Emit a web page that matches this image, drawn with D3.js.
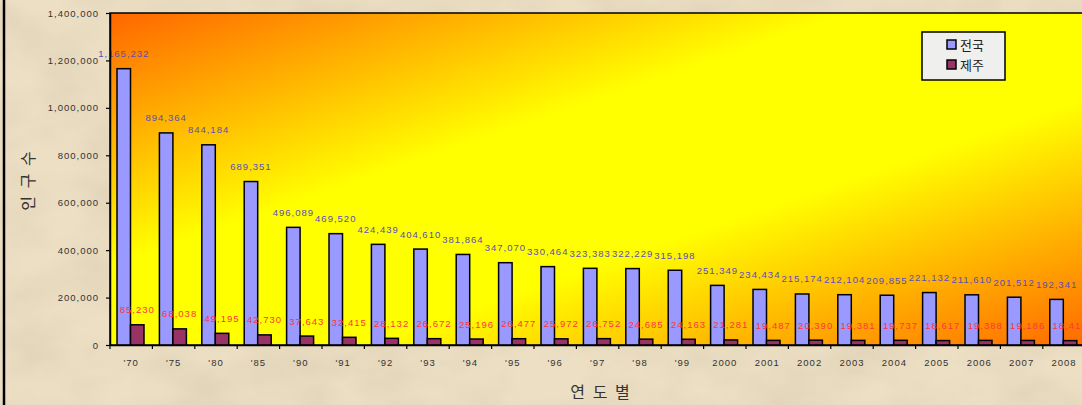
<!DOCTYPE html>
<html>
<head>
<meta charset="utf-8">
<script src="https://cdn.jsdelivr.net/npm/d3@7"></script>
<style>
  html, body { margin: 0; padding: 0; background: #ebdfc5; overflow: hidden; }
  svg { display: block; }
</style>
</head>
<body>
<svg id="chart" width="1082" height="405"></svg>
<script>
// kategori tahun dan nilai
const years = ["'70", "'75", "'80", "'85", "'90", "'91", "'92", "'93", "'94", "'95", "'96", "'97", "'98", "'99",
               "2000", "2001", "2002", "2003", "2004", "2005", "2006", "2007", "2008"];
const nationVals = [1165232, 894364, 844184, 689351, 496089, 469520, 424439, 404610, 381864, 347070, 330464,
                    323383, 322229, 315198, 251349, 234434, 215174, 212104, 209855, 221132, 211610, 201512, 192341];
const jejuVals = [85230, 68038, 49195, 42730, 37643, 32415, 28132, 26672, 25196, 26477, 25972,
                  26752, 24685, 24163, 21281, 19487, 20390, 19381, 19737, 18617, 19388, 19186, 18418];
const seriesNames = ["전국", "제주"];
const yTicks = [0, 200000, 400000, 600000, 800000, 1000000, 1200000, 1400000];

const W = 1082, H = 405;
const plot = { left: 110, top: 13, bottom: 345, band: 42.4 };
plot.right = plot.left + plot.band * years.length;

const svg = d3.select("#chart");
const defs = svg.append("defs");

// tekstur kertas
const paper = defs.append("filter").attr("id", "paper").attr("x", 0).attr("y", 0).attr("width", "100%").attr("height", "100%");
paper.append("feTurbulence").attr("type", "fractalNoise").attr("baseFrequency", "0.012 0.02").attr("numOctaves", 4).attr("seed", 7);
paper.append("feColorMatrix").attr("type", "matrix")
  .attr("values", "0 0 0 0 0.55  0 0 0 0 0.45  0 0 0 0 0.3  0 0 0 -1.1 0.75");
paper.append("feComposite").attr("in2", "SourceGraphic").attr("operator", "in");

// gradien area plot
const grad = defs.append("linearGradient").attr("id", "plotGrad")
  .attr("x1", "0").attr("y1", "0").attr("x2", "1").attr("y2", "1");
[[0, "#ff6600"], [0.38, "#ffff00"], [0.63, "#ffff00"], [1, "#ff6a00"]].forEach(s =>
  grad.append("stop").attr("offset", s[0]).attr("stop-color", s[1]));

// latar belakang
svg.append("rect").attr("width", W).attr("height", H).attr("fill", "#ecdfc4");
svg.append("rect").attr("width", W).attr("height", H).attr("fill", "#ecdfc4")
  .attr("filter", "url(#paper)").attr("opacity", 0.4);
svg.append("line").attr("x1", 4).attr("x2", 4).attr("y1", 0).attr("y2", H)
  .attr("stroke", "#000").attr("stroke-width", 2.5);

// skala
const x = d3.scaleBand().domain(years).range([plot.left, plot.right]).padding(0);
const xSub = d3.scaleBand().domain(seriesNames).range([7, 34]).padding(0);
const y = d3.scaleLinear().domain([0, 1400000]).range([plot.bottom, plot.top]);
const colors = { "전국": "#9999ff", "제주": "#993366" };

// area plot
svg.append("rect")
  .attr("x", plot.left).attr("y", plot.top)
  .attr("width", plot.right - plot.left).attr("height", plot.bottom - plot.top)
  .attr("fill", "url(#plotGrad)")
  .attr("stroke", "#000").attr("stroke-width", 1.5);

const rows = years.map((yr, i) => ({ yr, "전국": nationVals[i], "제주": jejuVals[i] }));

// batang
const groups = svg.append("g").selectAll("g").data(rows).join("g")
  .attr("transform", d => `translate(${x(d.yr)},0)`);

groups.selectAll("rect").data(d => seriesNames.map(k => ({ k, v: d[k] }))).join("rect")
  .attr("x", d => xSub(d.k))
  .attr("y", d => y(d.v))
  .attr("width", xSub.bandwidth())
  .attr("height", d => plot.bottom - y(d.v))
  .attr("fill", d => colors[d.k])
  .attr("stroke", "#000").attr("stroke-width", 1.5);

// label nilai
const fmt = d3.format(",");
groups.selectAll("text").data(d => seriesNames.map(k => ({ k, v: d[k] }))).join("text")
  .attr("x", d => xSub(d.k) + xSub.bandwidth() / 2)
  .attr("y", d => y(d.v) - 11.5)
  .attr("text-anchor", "middle")
  .style("font-family", "'Liberation Sans', Arial, sans-serif")
  .style("font-size", "9.5px")
  .style("letter-spacing", "1px")
  .attr("fill", d => d.k === "전국" ? "#5a4db8" : "#ff3535")
  .text(d => fmt(d.v));

// sumbu Y
const yAxis = svg.append("g")
  .attr("transform", `translate(${plot.left},0)`)
  .call(d3.axisLeft(y).tickValues(yTicks).tickFormat(fmt).tickSize(4).tickSizeOuter(0).tickPadding(7));
yAxis.select(".domain").attr("stroke", "#000").attr("stroke-width", 1.5);
yAxis.selectAll(".tick line").attr("stroke", "#000").attr("stroke-width", 1.2);
yAxis.selectAll("text")
  .style("font-family", "'Liberation Sans', Arial, sans-serif")
  .style("font-size", "9.5px").style("letter-spacing", "1px").attr("fill", "#333");

// sumbu X
const xAxis = svg.append("g")
  .attr("transform", `translate(0,${plot.bottom})`)
  .call(d3.axisBottom(x).tickSize(0).tickPadding(14).tickSizeOuter(0));
xAxis.select(".domain").attr("stroke", "#000").attr("stroke-width", 1.5);
xAxis.selectAll("text")
  .style("font-family", "'Liberation Sans', Arial, sans-serif")
  .style("font-size", "9.5px").style("letter-spacing", "1px").attr("fill", "#333");
xAxis.selectAll(".boundary").data(years).join("line")
  .attr("x1", d => x(d)).attr("x2", d => x(d))
  .attr("y1", 0).attr("y2", 4)
  .attr("stroke", "#000").attr("stroke-width", 1.2);

// judul sumbu
svg.append("text")
  .attr("x", 601).attr("y", 398)
  .attr("text-anchor", "middle")
  .style("font-family", "'Noto Sans CJK KR', sans-serif")
  .style("font-size", "16px").style("letter-spacing", "2px")
  .attr("fill", "#333")
  .text("연 도 별");

svg.append("text")
  .attr("transform", "translate(34,180) rotate(-90)")
  .attr("text-anchor", "middle")
  .style("font-family", "'Noto Sans CJK KR', sans-serif")
  .style("font-size", "16px").style("letter-spacing", "2px")
  .attr("fill", "#333")
  .text("인 구 수");

// legenda
const legend = svg.append("g").attr("transform", "translate(922,32)");
legend.append("rect").attr("width", 83).attr("height", 48)
  .attr("fill", "#efefed").attr("stroke", "#000").attr("stroke-width", 1.5);
seriesNames.forEach((name, i) => {
  const row = legend.append("g").attr("transform", `translate(25,${8 + i * 20})`);
  row.append("rect").attr("width", 9).attr("height", 9)
    .attr("fill", colors[name]).attr("stroke", "#000").attr("stroke-width", 1.5);
  row.append("text").attr("x", 13).attr("y", 9.5)
    .style("font-family", "'Noto Sans CJK KR', sans-serif")
    .style("font-size", "13px").attr("fill", "#222")
    .text(name);
});
</script>
</body>
</html>
